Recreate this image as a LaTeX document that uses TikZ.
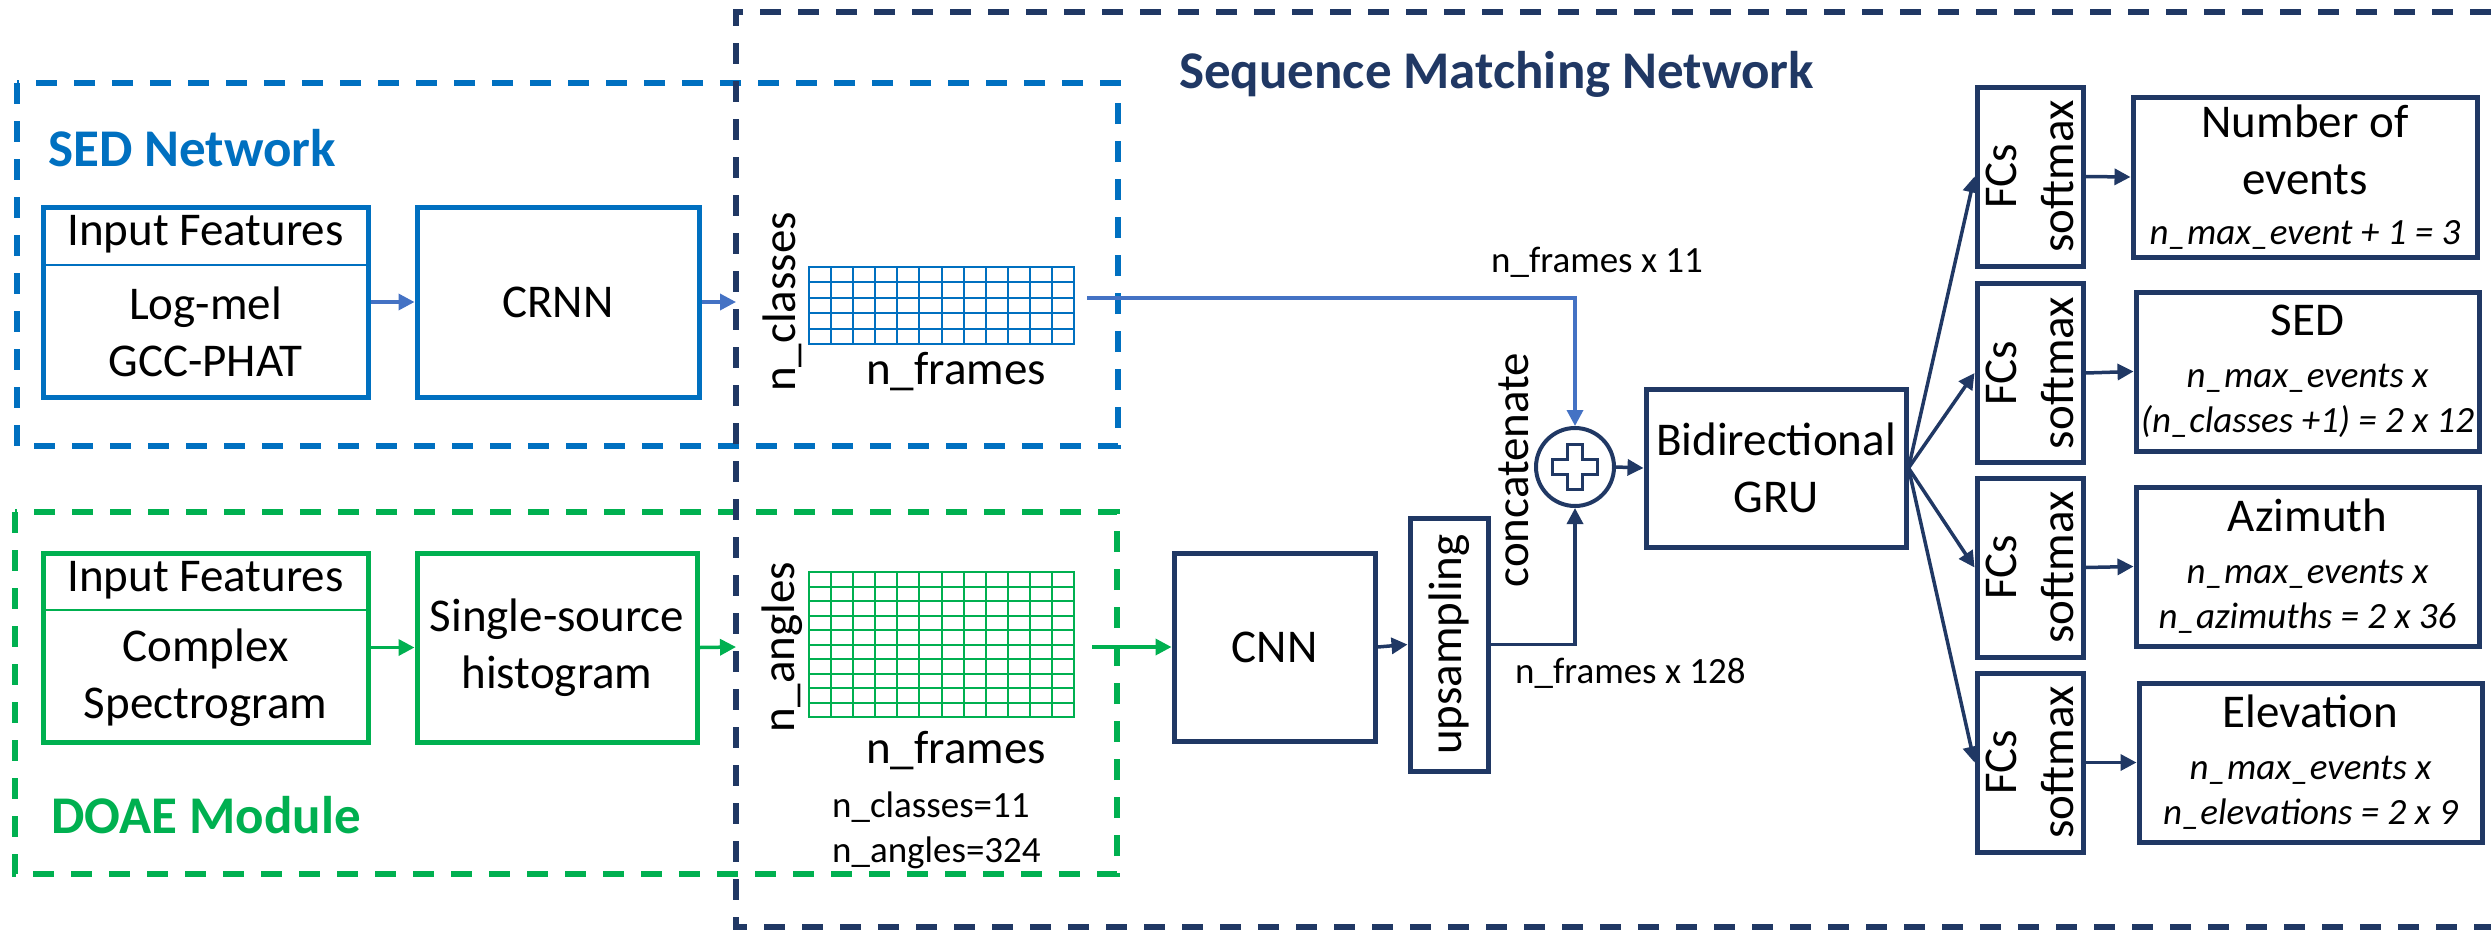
\documentclass[tikz,border=0pt]{standalone}
\usepackage{fontspec}
\setmainfont{Carlito}
\usetikzlibrary{arrows.meta}
\usetikzlibrary{calc}
\definecolor{sedblue}{HTML}{0070C0}
\definecolor{linkblue}{HTML}{4472C4}
\definecolor{doagreen}{HTML}{00B050}
\definecolor{smnavy}{HTML}{203864}
\newcommand{\bodyfont}{\fontsize{47}{57}\selectfont}
\newcommand{\notefont}{\fontsize{37}{45}\selectfont}
\newcommand{\headfont}{\fontsize{53}{64}\selectfont\bfseries}
\tikzset{blk/.style={rectangle, draw, line width=5pt, inner sep=0pt, align=center, font=\bodyfont, text=black}}
\tikzset{lbl/.style={inner sep=0pt, align=center, font=\bodyfont}}
\tikzset{note/.style={inner sep=0pt, font=\notefont}}
\tikzset{frame/.style={line width=5.5pt, dash pattern=on 21pt off 17pt}}
\tikzset{link/.style={line width=3.5pt, -{Triangle[length=16pt, width=16pt]}}}
\tikzset{mapbox/.style={rectangle, draw, line width=2pt, inner sep=0pt, outer sep=0pt}}
\tikzset{gridline/.style={line width=2pt}}

\begin{document}
\begin{tikzpicture}[x=1pt, y=-1pt]

    \useasboundingbox (0,0) rectangle (2491,930);

    % dashed frames
    \draw[frame, sedblue] (17,83) rectangle (1118,446);
    \draw[frame, doagreen] (15,512) rectangle (1117,874);
    \draw[frame, smnavy] (2491,12) -- (736,12) -- (736,927) -- (2491,927);

    \node[font=\headfont, text=sedblue, anchor=base west, inner sep=0pt] (sedtitle) at (48,166) {SED Network};
    \node[font=\headfont, text=doagreen, anchor=base west, inner sep=0pt] (doatitle) at (51,833) {DOAE Module};
    \node[font=\headfont, text=smnavy, anchor=base, inner sep=0pt] (smntitle) at (1496.5,88) {Sequence Matching Network};

    % SED branch
    \node[blk, draw=sedblue, minimum width=325pt, minimum height=190pt] (sedin) at (205.5,302) {};
    \node[lbl, minimum width=325pt, minimum height=60pt, anchor=north] (sedhead) at (sedin.north) {Input Features};
    \draw[sedblue, line width=2.5pt] (sedhead.south west) -- (sedhead.south east);
    \node[lbl] (sedfeat) at (205.5,332) {Log-mel\\GCC-PHAT};
    \node[blk, draw=sedblue, minimum width=282pt, minimum height=190pt] (crnn) at (558,302) {CRNN};
    \coordinate (sedport) at (736,302);

    \node[mapbox, draw=sedblue, minimum width=265pt, minimum height=77pt] (sedmap) at (941.5,305.5) {};
    \foreach \i in {1,...,11}
      \draw[gridline, sedblue] ($(sedmap.north west)!\i/12!(sedmap.north east)$) -- ($(sedmap.south west)!\i/12!(sedmap.south east)$);
    \foreach \j in {1,...,4}
      \draw[gridline, sedblue] ($(sedmap.north west)!\j/5!(sedmap.south west)$) -- ($(sedmap.north east)!\j/5!(sedmap.south east)$);
    \node[lbl, rotate=90] (sedrows) at (782,302) {n\_classes};
    \node[lbl, anchor=base] (sedcols) at (956,384) {n\_frames};
    \coordinate (sedout) at (1087,298);

    % DOAE branch
    \node[blk, draw=doagreen, minimum width=325pt, minimum height=189pt] (doain) at (205.5,647.5) {};
    \node[lbl, minimum width=325pt, minimum height=59pt, anchor=north] (doahead) at (doain.north) {Input Features};
    \draw[doagreen, line width=2.5pt] (doahead.south west) -- (doahead.south east);
    \node[lbl] (doafeat) at (205.5,677.5) {Complex\\Spectrogram};
    \node[blk, draw=doagreen, minimum width=280pt, minimum height=189pt] (hist) at (557,647.5) {Single-source\\histogram};
    \coordinate (doaport) at (736,647);

    \node[mapbox, draw=doagreen, minimum width=265pt, minimum height=145pt] (doamap) at (941.5,644.5) {};
    \foreach \i in {1,...,11}
      \draw[gridline, doagreen] ($(doamap.north west)!\i/12!(doamap.north east)$) -- ($(doamap.south west)!\i/12!(doamap.south east)$);
    \foreach \j in {1,...,9}
      \draw[gridline, doagreen] ($(doamap.north west)!\j/10!(doamap.south west)$) -- ($(doamap.north east)!\j/10!(doamap.south east)$);
    \node[lbl, rotate=90] (doarows) at (782,647) {n\_angles};
    \node[lbl, anchor=base] (doacols) at (956,763) {n\_frames};
    \node[note, align=left, anchor=west] (doasizes) at (832,830) {n\_classes=11\\n\_angles=324};

    % sequence matching
    \node[blk, draw=smnavy, minimum width=201pt, minimum height=188pt] (cnn) at (1274.5,647) {CNN};
    \node[blk, draw=smnavy, rotate=90, minimum width=253pt, minimum height=78pt] (up) at (1449,644.5) {upsampling};
    \node[circle, draw=smnavy, line width=4pt, minimum size=78pt, inner sep=0pt] (cat) at (1575,467) {};
    \draw[smnavy, line width=3pt, shift={(cat)}] (-7.5,-22.5) -- (7.5,-22.5) -- (7.5,-7.5) -- (22.5,-7.5) -- (22.5,7.5) -- (7.5,7.5) -- (7.5,22.5) -- (-7.5,22.5) -- (-7.5,7.5) -- (-22.5,7.5) -- (-22.5,-7.5) -- (-7.5,-7.5) -- cycle;
    \node[lbl, rotate=90] (catlbl) at (1514,470) {concatenate};
    \node[note, anchor=base west] (sedsize) at (1491,272) {n\_frames x 11};
    \node[note, anchor=base west] (doasize) at (1515,683) {n\_frames x 128};
    \node[blk, draw=smnavy, minimum width=260pt, minimum height=158pt] (gru) at (1776,468) {Bidirectional\\GRU};

    \foreach \k/\y in {1/176.5, 2/373, 3/567.5, 4/762.5}
      \node[blk, draw=smnavy, rotate=90, minimum width=179pt, minimum height=106pt] (fc\k) at (2030,\y) {FCs\\softmax};

    \node[blk, draw=smnavy, minimum width=344pt, minimum height=160pt] (out1) at (2305,177) {Number of\\events\\[-7pt]{\notefont\itshape n\_max\_event + 1 = 3}};
    \node[blk, draw=smnavy, minimum width=343pt, minimum height=159pt] (out2) at (2307.5,371.5) {SED\\[-5pt]{\notefont\itshape n\_max\_events x}\\[-12pt]{\notefont\itshape (n\_classes +1) = 2 x 12}};
    \node[blk, draw=smnavy, minimum width=343pt, minimum height=159pt] (out3) at (2307.5,566.5) {Azimuth\\[-5pt]{\notefont\itshape n\_max\_events x}\\[-12pt]{\notefont\itshape n\_azimuths = 2 x 36}};
    \node[blk, draw=smnavy, minimum width=343pt, minimum height=159pt] (out4) at (2310.5,762.5) {Elevation\\[-5pt]{\notefont\itshape n\_max\_events x}\\[-12pt]{\notefont\itshape n\_elevations = 2 x 9}};

    % connectors
    \draw[link, linkblue] (sedin.east) -- (crnn.west);
    \draw[link, linkblue] (crnn.east) -- (sedport);
    \draw[link, doagreen] (doain.east) -- (hist.west);
    \draw[link, doagreen] (hist.east) -- (doaport);
    \draw[link, doagreen] ([xshift=18pt]cnn.west -| doamap.east) -- (cnn.west);
    \draw[link, linkblue] (sedout) -| (cat.north);
    \draw[link, smnavy] (cnn.east) -- (up.north);
    \draw[link, smnavy] (up.south) -| (cat.south);
    \draw[link, smnavy] (cat.east) -- (gru.west);
    \foreach \k in {1,...,4} {
      \draw[link, smnavy] (gru.east) -- (fc\k.north);
      \draw[link, smnavy] (fc\k.south) -- (out\k.west);
    }

\end{tikzpicture}
\end{document}
